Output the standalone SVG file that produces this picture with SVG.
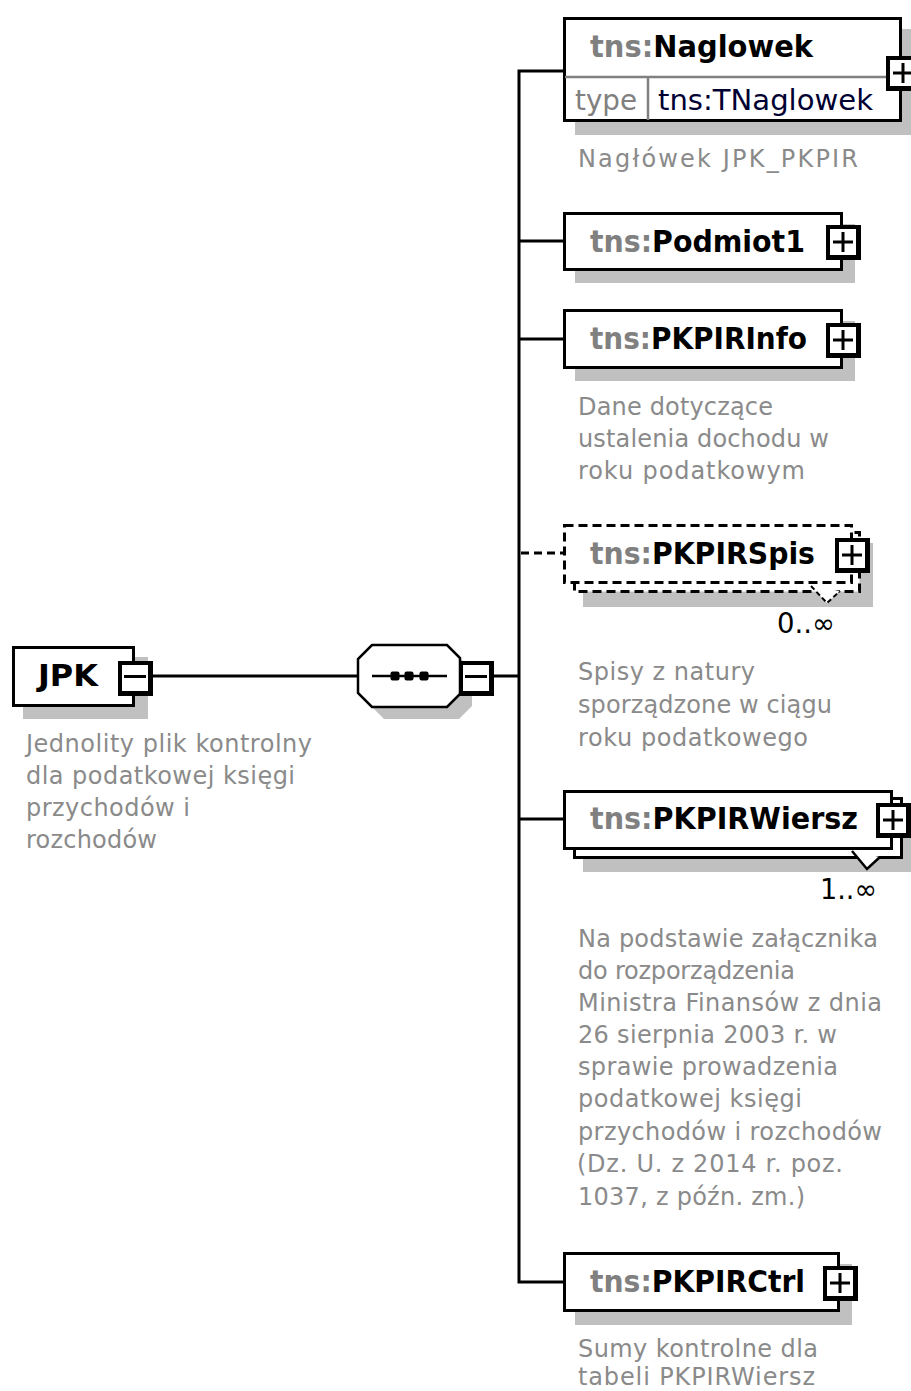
<svg xmlns="http://www.w3.org/2000/svg" width="911" height="1391" viewBox="0 0 911 1391">
<style>
.shadow{fill:#c0c0c0;stroke:none}
.box{fill:#fff;stroke:#000;stroke-width:3}
.dbox{fill:#fff;stroke:#000;stroke-width:3;stroke-dasharray:9 5}
.conn{fill:none;stroke:#000;stroke-width:3}
.dconn{fill:none;stroke:#000;stroke-width:3;stroke-dasharray:8 5}
.title{font-family:"DejaVu Sans","Liberation Sans",sans-serif;font-weight:bold;font-size:30px;fill:#000}
.pre{fill:#808080}
.desc{font-family:"DejaVu Sans","Liberation Sans",sans-serif;font-size:24px;fill:#8a8a8a}
.norm{font-family:"DejaVu Sans","Liberation Sans",sans-serif;font-size:29px}
.mult{font-family:"DejaVu Sans","Liberation Sans",sans-serif;font-size:28px;fill:#000}
.sym{fill:none;stroke:#000;stroke-width:3}
</style>
<defs>
<g id="btn">
<rect x="0" y="0" width="35" height="35" fill="#000"/>
<rect x="4" y="4" width="26" height="26" fill="#fff"/>
</g>
<g id="plus">
<use href="#btn"/>
<line x1="7" y1="17" x2="27" y2="17" class="sym"/>
<line x1="17" y1="7" x2="17" y2="27" class="sym"/>
</g>
<g id="minus">
<use href="#btn"/>
<line x1="6" y1="15.5" x2="28" y2="15.5" class="sym"/>
</g>
</defs>

<g id="connectors">
<line class="conn" x1="150" y1="676" x2="358" y2="676"/>
<line class="conn" x1="490" y1="676" x2="519" y2="676"/>
<polyline class="conn" points="563,71 519,71 519,1282 563,1282"/>
<line class="conn" x1="519" y1="241" x2="563" y2="241"/>
<line class="conn" x1="519" y1="339" x2="563" y2="339"/>
<line class="dconn" x1="521" y1="553" x2="563" y2="553"/>
<line class="conn" x1="519" y1="819" x2="563" y2="819"/>
</g>

<g id="node-JPK">
<rect class="shadow" x="23" y="657" width="125" height="62"/>
<rect class="box" x="13.5" y="647.5" width="120" height="58"/>
<text class="title" x="38" y="686" textLength="60" lengthAdjust="spacingAndGlyphs">JPK</text>
<use href="#minus" x="118" y="661"/>
<text class="desc" x="26" y="752" textLength="286" lengthAdjust="spacing">Jednolity plik kontrolny</text>
<text class="desc" x="26" y="784" textLength="269" lengthAdjust="spacing">dla podatkowej księgi</text>
<text class="desc" x="26" y="816" textLength="164" lengthAdjust="spacing">przychodów i</text>
<text class="desc" x="26" y="848" textLength="131" lengthAdjust="spacing">rozchodów</text>
</g>

<g id="node-sequence">
<polygon class="shadow" points="384,657 459,657 472,670 472,706 459,719 384,719 370,705 370,671"/>
<polygon points="372,645 447,645 460,658 460,694 447,707 372,707 358,693 358,659" fill="#fff" stroke="#000" stroke-width="2.5"/>
<line x1="372" y1="676" x2="447" y2="676" stroke="#000" stroke-width="2.5"/>
<rect x="390.5" y="671.5" width="9" height="9" rx="2" fill="#000"/>
<rect x="404.5" y="671.5" width="9" height="9" rx="2" fill="#000"/>
<rect x="419.5" y="671.5" width="9" height="9" rx="2" fill="#000"/>
<use href="#minus" x="459" y="661"/>
</g>

<g id="node-Naglowek">
<rect class="shadow" x="575" y="29" width="340" height="106"/>
<rect class="box" x="564.5" y="18.5" width="336" height="102"/>
<line x1="565" y1="77" x2="900" y2="77" stroke="#808080" stroke-width="2.5"/>
<line x1="648" y1="78" x2="648" y2="120" stroke="#808080" stroke-width="2.5"/>
<text class="title" x="590" y="57" textLength="223" lengthAdjust="spacingAndGlyphs"><tspan class="pre">tns:</tspan>Naglowek</text>
<text class="norm" x="575" y="110" fill="#808080" textLength="62" lengthAdjust="spacingAndGlyphs">type</text>
<text class="norm" x="658" y="110" fill="#000033" textLength="215" lengthAdjust="spacingAndGlyphs">tns:TNaglowek</text>
<use href="#plus" x="886" y="56"/>
<text class="desc" x="578" y="167" textLength="280" lengthAdjust="spacing">Nagłówek JPK_PKPIR</text>
</g>

<g id="node-Podmiot1">
<rect class="shadow" x="575" y="224" width="280" height="59"/>
<rect class="box" x="564.5" y="213.5" width="277" height="56"/>
<text class="title" x="590" y="252" textLength="215" lengthAdjust="spacingAndGlyphs"><tspan class="pre">tns:</tspan>Podmiot1</text>
<use href="#plus" x="826" y="225"/>
</g>

<g id="node-PKPIRInfo">
<rect class="shadow" x="575" y="321" width="280" height="60"/>
<rect class="box" x="564.5" y="310.5" width="277" height="57"/>
<text class="title" x="590" y="349" textLength="217" lengthAdjust="spacingAndGlyphs"><tspan class="pre">tns:</tspan>PKPIRInfo</text>
<use href="#plus" x="826" y="323"/>
<text class="desc" x="578" y="415" textLength="195" lengthAdjust="spacing">Dane dotyczące</text>
<text class="desc" x="578" y="447" textLength="251" lengthAdjust="spacing">ustalenia dochodu w</text>
<text class="desc" x="578" y="479" textLength="227" lengthAdjust="spacing">roku podatkowym</text>
</g>

<g id="node-PKPIRSpis">
<rect class="shadow" x="583" y="543" width="290" height="64"/>
<rect class="dbox" x="574.5" y="532.5" width="285" height="59"/>
<rect class="dbox" x="564.5" y="525.5" width="287" height="57"/>
<polyline points="811,586 827,603 840,591" fill="#fff" stroke="#000" stroke-width="2" stroke-dasharray="5 3"/>
<text class="title" x="590" y="564" textLength="225" lengthAdjust="spacingAndGlyphs"><tspan class="pre">tns:</tspan>PKPIRSpis</text>
<use href="#plus" x="835" y="538"/>
<text class="mult" x="777" y="633" textLength="58" lengthAdjust="spacingAndGlyphs">0..∞</text>
<text class="desc" x="578" y="680" textLength="177" lengthAdjust="spacing">Spisy z natury</text>
<text class="desc" x="578" y="713" textLength="254" lengthAdjust="spacing">sporządzone w ciągu</text>
<text class="desc" x="578" y="746" textLength="230" lengthAdjust="spacing">roku podatkowego</text>
</g>

<g id="node-PKPIRWiersz">
<rect class="shadow" x="583" y="809" width="330" height="63"/>
<rect class="box" x="574.5" y="798.5" width="327" height="59"/>
<rect class="box" x="564.5" y="791.5" width="327" height="57"/>
<polyline points="852,851 867,869 880,857" fill="#fff" stroke="#000" stroke-width="2.5"/>
<text class="title" x="590" y="829" textLength="268" lengthAdjust="spacingAndGlyphs"><tspan class="pre">tns:</tspan>PKPIRWiersz</text>
<use href="#plus" x="876" y="803"/>
<text class="mult" x="820" y="899" textLength="57" lengthAdjust="spacingAndGlyphs">1..∞</text>
<text class="desc" x="578" y="947" textLength="300" lengthAdjust="spacing">Na podstawie załącznika</text>
<text class="desc" x="578" y="979" textLength="217" lengthAdjust="spacing">do rozporządzenia</text>
<text class="desc" x="578" y="1011" textLength="304" lengthAdjust="spacing">Ministra Finansów z dnia</text>
<text class="desc" x="578" y="1043" textLength="259" lengthAdjust="spacing">26 sierpnia 2003 r. w</text>
<text class="desc" x="578" y="1075" textLength="260" lengthAdjust="spacing">sprawie prowadzenia</text>
<text class="desc" x="578" y="1107" textLength="224" lengthAdjust="spacing">podatkowej księgi</text>
<text class="desc" x="578" y="1140" textLength="304" lengthAdjust="spacing">przychodów i rozchodów</text>
<text class="desc" x="577" y="1172" textLength="266" lengthAdjust="spacing">(Dz. U. z 2014 r. poz.</text>
<text class="desc" x="578" y="1205" textLength="227" lengthAdjust="spacing">1037, z późn. zm.)</text>
</g>

<g id="node-PKPIRCtrl">
<rect class="shadow" x="575" y="1264" width="277" height="61"/>
<rect class="box" x="564.5" y="1253.5" width="274" height="57"/>
<text class="title" x="590" y="1292" textLength="215" lengthAdjust="spacingAndGlyphs"><tspan class="pre">tns:</tspan>PKPIRCtrl</text>
<use href="#plus" x="823" y="1266"/>
<text class="desc" x="578" y="1357" textLength="240" lengthAdjust="spacing">Sumy kontrolne dla</text>
<text class="desc" x="578" y="1385" textLength="237" lengthAdjust="spacing">tabeli PKPIRWiersz</text>
</g>
</svg>
